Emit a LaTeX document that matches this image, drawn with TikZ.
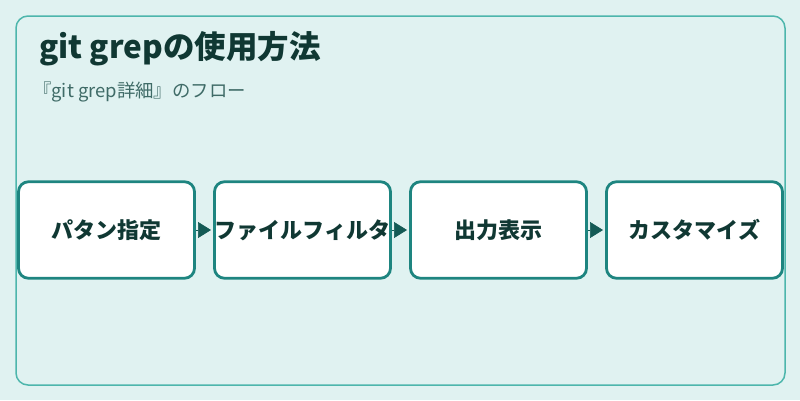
\documentclass[tikz,border=0pt]{standalone}
\usepackage{fontspec}
\usepackage{tikz}
\usetikzlibrary{positioning,arrows.meta}
\newfontfamily\jpfont{Noto Sans CJK JP}
\definecolor{bgteal}{HTML}{E0F2F1}
\definecolor{frameteal}{HTML}{4DB6AC}
\definecolor{boxteal}{HTML}{1E8580}
\definecolor{arrowteal}{HTML}{145A55}
\definecolor{titleink}{HTML}{103833}
\definecolor{subink}{HTML}{3F6B67}

\tikzset{
  stepbox/.style={draw=boxteal, line width=2.8pt, fill=white, rounded corners=10pt,
    minimum width=176pt, minimum height=96.5pt, inner sep=0pt, outer sep=0pt,
    font=\jpfont\bfseries\fontsize{22}{26}\selectfont, text=titleink},
  flow/.style={-{Triangle[length=13pt,width=16pt]}, arrowteal, line width=0.6pt,
    shorten <=1.5pt, shorten >=3.5pt}
}

\begin{document}
\begin{tikzpicture}[x=1pt,y=-1pt]
    % background and frame
    \useasboundingbox (0,0) rectangle (800,400);
    \fill[bgteal] (0,0) rectangle (800,400);
    \draw[frameteal, line width=1.5pt, rounded corners=12pt] (16,16) rectangle (785,385);

    % title
    \node[anchor=base west, inner sep=0pt, text=titleink, font=\jpfont\bfseries\fontsize{31.5}{36}\selectfont] (title) at (39,58) {git grepの使用方法};
    \node[anchor=base west, inner sep=0pt, text=subink, font=\jpfont\fontsize{18.4}{22}\selectfont] (subtitle) at (33,97) {『git grep詳細』のフロー};

    % steps
    \node[stepbox] (pattern) at (106.5,230) {パタン指定};
    \node[stepbox, right=20pt of pattern] (filter) {ファイルフィルタ};
    \node[stepbox, right=20pt of filter] (output) {出力表示};
    \node[stepbox, right=20pt of output] (custom) {カスタマイズ};

    % arrows
    \draw[flow] (pattern) -- (filter);
    \draw[flow] (filter) -- (output);
    \draw[flow] (output) -- (custom);
\end{tikzpicture}
\end{document}
